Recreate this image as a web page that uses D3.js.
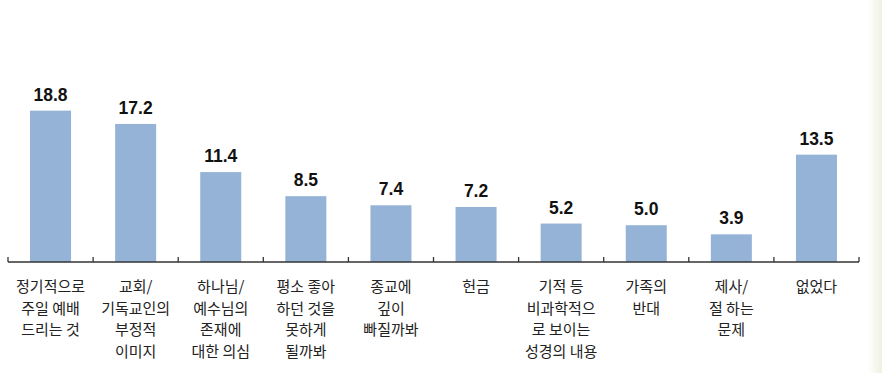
<!DOCTYPE html>
<html><head><meta charset="utf-8">
<script src="https://cdn.jsdelivr.net/npm/d3@7"></script>
<style>html,body{margin:0;padding:0;background:#fff;}svg{display:block;}</style>
</head><body>
<svg id="chart" width="882" height="373"></svg>
<script>
const categories = ["정기적으로 주일 예배 드리는 것","교회/기독교인의 부정적 이미지","하나님/예수님의 존재에 대한 의심","평소 좋아 하던 것을 못하게 될까봐","종교에 깊이 빠질까봐","헌금","기적 등 비과학적으로 보이는 성경의 내용","가족의 반대","제사/절 하는 문제","없었다"];
const labelLines = [
  ["정기적으로","주일 예배","드리는 것"],
  ["교회/","기독교인의","부정적","이미지"],
  ["하나님/","예수님의","존재에","대한 의심"],
  ["평소 좋아","하던 것을","못하게","될까봐"],
  ["종교에","깊이","빠질까봐"],
  ["헌금"],
  ["기적 등","비과학적으","로 보이는","성경의 내용"],
  ["가족의","반대"],
  ["제사/","절 하는","문제"],
  ["없었다"]
];
const values = [18.8,17.2,11.4,8.5,7.4,7.2,5.2,5.0,3.9,13.5];

const svg = d3.select("#chart");
const defs = svg.append("defs");
const g1 = defs.append("linearGradient").attr("id","edge").attr("x1","0").attr("x2","1");
g1.append("stop").attr("offset","0").attr("stop-color","#ffffff");
g1.append("stop").attr("offset","1").attr("stop-color","#eef2df");
svg.append("rect").attr("x",868).attr("y",0).attr("width",14).attr("height",373).attr("fill","url(#edge)");

const baseY = 262;
const x = d3.scaleBand().domain(categories).range([8,859]).paddingInner(0.518).paddingOuter(0.259);
const y = d3.scaleLinear().domain([0,20]).range([266.7,100.7]);

svg.selectAll("rect.bar").data(values).join("rect").attr("class","bar")
  .attr("x",(d,i)=>x(categories[i]))
  .attr("width",x.bandwidth())
  .attr("y",d=>y(d))
  .attr("height",d=>baseY-y(d))
  .attr("fill","#95B3D7");

svg.selectAll("text.val").data(values).join("text").attr("class","val")
  .attr("x",(d,i)=>x(categories[i])+x.bandwidth()/2)
  .attr("y",d=>y(d)-10)
  .attr("text-anchor","middle")
  .attr("font-family","Arial, 'Liberation Sans', sans-serif")
  .attr("font-weight","bold")
  .attr("font-size",17.5)
  .attr("fill","#111")
  .text(d=>d.toFixed(1));

const ax = svg.append("g").attr("stroke","#333").attr("stroke-width",1.3);
ax.append("line").attr("x1",8).attr("x2",859).attr("y1",baseY).attr("y2",baseY);
const step = x.step();
const bounds = d3.range(categories.length+1).map(i=>8+i*step);
ax.selectAll("line.tick").data(bounds).join("line").attr("class","tick")
  .attr("x1",d=>d).attr("x2",d=>d).attr("y1",baseY).attr("y2",baseY-5);

const lab = svg.selectAll("text.cat").data(labelLines).join("text").attr("class","cat")
  .attr("text-anchor","middle")
  .attr("font-family","'Noto Sans CJK KR', sans-serif")
  .attr("font-size",15)
  .attr("fill","#222");
lab.each(function(lines,i){
  const cx = x(categories[i])+x.bandwidth()/2;
  d3.select(this).selectAll("tspan").data(lines).join("tspan")
    .attr("x",cx).attr("y",(d,j)=>292+j*21.5).text(d=>d);
});
</script>
</body></html>
